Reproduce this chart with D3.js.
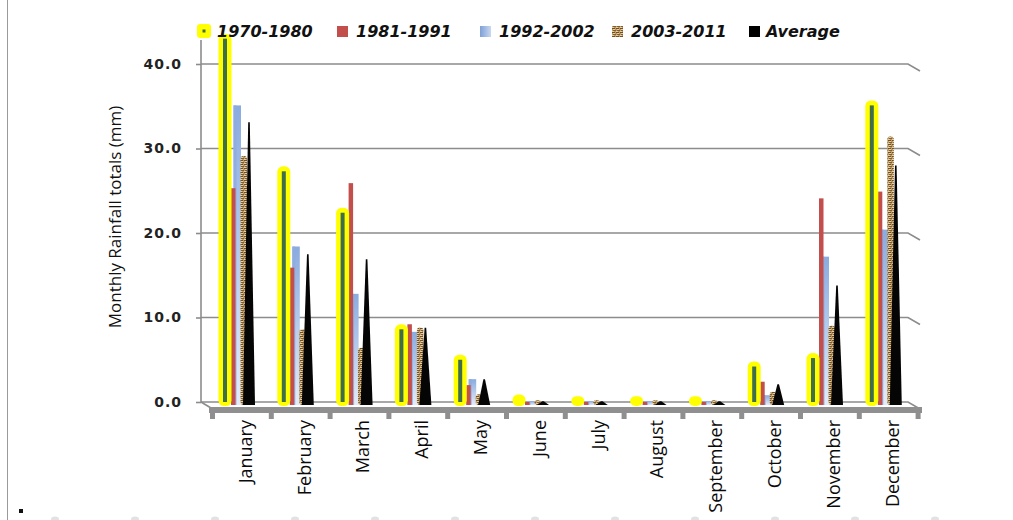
<!DOCTYPE html>
<html>
<head>
<meta charset="utf-8">
<script src="https://cdn.jsdelivr.net/npm/d3@7"></script>
<style>
  html, body { margin: 0; padding: 0; background: #fff; }
  svg { display: block; }
</style>
</head>
<body>
<svg id="chart" width="1013" height="520"></svg>
<script>
// Monthly rainfall totals (mm) by period
const months = ["January", "February", "March", "April", "May", "June",
  "July", "August", "September", "October", "November", "December"];
const seriesNames = ["1970-1980", "1981-1991", "1992-2002", "2003-2011", "Average"];
const rain1970_1980 = [43.0, 27.3, 22.4, 8.6, 5.0, 0.3, 0.1, 0.1, 0.1, 4.2, 5.2, 35.1];
const rain1981_1991 = [25.3, 15.9, 25.9, 9.2, 2.0, 0.0, 0.0, 0.0, 0.0, 2.4, 24.1, 24.9];
const rain1992_2002 = [35.1, 18.4, 12.8, 8.3, 2.7, 0.1, 0.1, 0.1, 0.1, 0.8, 17.2, 20.4];
const rain2003_2011 = [29.0, 8.5, 6.3, 8.7, 0.8, 0.1, 0.1, 0.1, 0.1, 1.1, 8.9, 31.3];
const rainAverage   = [33.1, 17.5, 16.9, 8.8, 2.7, 0.1, 0.1, 0.1, 0.1, 2.1, 13.8, 28.0];
const yTickValues = [0, 10, 20, 30, 40];
const axisTitle = "Monthly Rainfall totals (mm)";

const svg = d3.select("#chart");
const defs = svg.append("defs");

// Fills
const blueGrad = defs.append("linearGradient").attr("id", "blueGrad")
  .attr("x1", 0).attr("y1", 0).attr("x2", 0).attr("y2", 1);
blueGrad.append("stop").attr("offset", "0%").attr("stop-color", "#8aabdf");
blueGrad.append("stop").attr("offset", "100%").attr("stop-color", "#e4ecf8");

const blueGradH = defs.append("linearGradient").attr("id", "blueGradH")
  .attr("x1", 0).attr("y1", 0).attr("x2", 1).attr("y2", 0);
blueGradH.append("stop").attr("offset", "0%").attr("stop-color", "#7f9fd6");
blueGradH.append("stop").attr("offset", "100%").attr("stop-color", "#c9d8f0");

const weave = defs.append("pattern").attr("id", "weave")
  .attr("patternUnits", "userSpaceOnUse").attr("width", 4).attr("height", 4);
weave.append("rect").attr("width", 4).attr("height", 4).attr("fill", "#bf9b63");
weave.append("rect").attr("x", 0).attr("y", 0).attr("width", 3).attr("height", 1).attr("fill", "#6f4f28");
weave.append("rect").attr("x", 1).attr("y", 2).attr("width", 3).attr("height", 1).attr("fill", "#7e5e33");
weave.append("rect").attr("x", 1).attr("y", 1).attr("width", 2).attr("height", 1).attr("fill", "#e6cfa2");
weave.append("rect").attr("x", 0).attr("y", 3).attr("width", 2).attr("height", 1).attr("fill", "#e6cfa2");

// Scales
const y = d3.scaleLinear().domain([0, 40]).range([402, 64]);
const x = d3.scaleBand().domain(months).range([212, 917.6]).paddingInner(0).paddingOuter(0);
const bw = x.bandwidth();
const y0 = y(0);

const gridColor = "#8c8c8c";

// Back wall gridlines with the perspective turn at the right edge
const wallRight = 908;
svg.append("g").selectAll("path").data(yTickValues).join("path")
  .attr("d", d => `M201,${y(d)}H${wallRight}L920,${y(d) + 7}`)
  .attr("fill", "none").attr("stroke", gridColor).attr("stroke-width", 1.6);

// Left wall edge
svg.append("line").attr("x1", 201).attr("x2", 201).attr("y1", 40).attr("y2", y0)
  .attr("stroke", gridColor).attr("stroke-width", 1.6);
svg.append("path").attr("d", `M201,${y0}L211,${y0 + 6}`)
  .attr("stroke", gridColor).attr("stroke-width", 1.6).attr("fill", "none");

// Y axis ticks and labels
const yAxis = d3.axisLeft(y).tickValues(yTickValues).tickFormat(d3.format(".1f")).tickSize(5).tickPadding(14);
const gy = svg.append("g").attr("transform", "translate(201,0)").call(yAxis);
gy.select(".domain").remove();
gy.selectAll(".tick line").attr("stroke", gridColor).attr("stroke-width", 1.6);
gy.selectAll(".tick text")
  .attr("font-family", "DejaVu Sans, Verdana, sans-serif")
  .attr("font-weight", "bold").attr("font-size", 14)
  .attr("letter-spacing", 1).attr("fill", "#222");

// Y axis title
svg.append("text")
  .attr("transform", "translate(121,217) rotate(-90)")
  .attr("text-anchor", "middle")
  .attr("font-family", "Open Sans, sans-serif").attr("font-size", 17)
  .attr("fill", "#111")
  .text(axisTitle);

// Floor front edge with category ticks
svg.append("rect").attr("x", 209).attr("y", y0 + 5).attr("width", 713).attr("height", 6)
  .attr("fill", "#8f8f8f");
const boundaries = months.map(m => x(m)).concat([x(months[11]) + bw]);
svg.append("g").selectAll("rect").data(boundaries).join("rect")
  .attr("x", d => d - 2).attr("y", y0 + 10).attr("width", 5).attr("height", 7)
  .attr("fill", "#8f8f8f");

// Month labels
svg.append("g").selectAll("text").data(months).join("text")
  .attr("transform", d => `translate(${x(d) + bw / 2 + 4},420) rotate(-90)`)
  .attr("text-anchor", "end").attr("dy", "0.35em")
  .attr("font-family", "Open Sans, sans-serif").attr("font-size", 18)
  .attr("fill", "#0a0a0a")
  .text(d => d);

// Bars
const base = y0 + 3;
const rows = months.map((m, i) => ({
  m,
  a: rain1970_1980[i], b: rain1981_1991[i], c: rain1992_2002[i],
  d: rain2003_2011[i], e: rainAverage[i]
}));
const bars = svg.append("g");

// 1992-2002: gradient columns
bars.selectAll(".s3").data(rows).join("rect").attr("class", "s3")
  .attr("x", r => x(r.m) + 21.5).attr("width", 7.5)
  .attr("y", r => y(r.c)).attr("height", r => base - y(r.c))
  .attr("fill", "url(#blueGrad)");
bars.selectAll(".s3e").data(rows).join("rect").attr("class", "s3e")
  .attr("x", r => x(r.m) + 21.5).attr("width", 3)
  .attr("y", r => y(r.c)).attr("height", r => base - y(r.c))
  .attr("fill", "#8fabde").attr("opacity", 0.85);

// 2003-2011: woven texture columns
bars.selectAll(".s4").data(rows).join("rect").attr("class", "s4")
  .attr("x", r => x(r.m) + 28.5).attr("width", 6.5)
  .attr("y", r => y(r.d) - 1).attr("height", r => base - y(r.d) + 1)
  .attr("rx", 3)
  .attr("fill", "url(#weave)");

// Average: pyramids
bars.selectAll(".s5").data(rows).join("path").attr("class", "s5")
  .attr("d", r => {
    const l = x(r.m) + 31, rr = x(r.m) + 43, ap = x(r.m) + 37;
    const t = y(r.e);
    return `M${l},${base}L${ap - 0.8},${t}L${ap + 0.8},${t}L${rr},${base}Z`;
  })
  .attr("fill", "#050505");

// 1981-1991: slim columns
bars.selectAll(".s2").data(rows).join("rect").attr("class", "s2")
  .attr("x", r => x(r.m) + 19).attr("width", 4.5)
  .attr("y", r => y(r.b)).attr("height", r => base - y(r.b))
  .attr("fill", "#c24f4c");

// 1970-1980: highlighted columns
bars.selectAll(".s1").data(rows).join("rect").attr("class", "s1")
  .attr("x", r => x(r.m) + 6.5).attr("width", 13)
  .attr("y", r => y(r.a) - 5).attr("height", r => base + 1 - (y(r.a) - 5))
  .attr("rx", 5.5)
  .attr("fill", "#ffff00");
bars.selectAll(".s1c").data(rows.filter(r => r.a > 1)).join("rect").attr("class", "s1c")
  .attr("x", r => x(r.m) + 11).attr("width", 4)
  .attr("y", r => y(r.a)).attr("height", r => y0 - y(r.a))
  .attr("fill", "#3f6e4c");

// Legend
const legendX = [197, 337, 480, 612, 749];
const legendTextX = [217, 356, 499, 631, 766];
const lg = svg.append("g");
lg.append("rect").attr("x", legendX[0]).attr("y", 24).attr("width", 14).attr("height", 14)
  .attr("rx", 3).attr("fill", "#ffff00");
lg.append("rect").attr("x", legendX[0] + 5.5).attr("y", 29.5).attr("width", 3).attr("height", 3)
  .attr("fill", "#3f6e4c");
const swatchFills = [null, "#c24f4c", "url(#blueGradH)", "url(#weave)", "#000"];
for (let i = 1; i < 5; i++) {
  lg.append("rect").attr("x", legendX[i]).attr("y", 26).attr("width", 11).attr("height", 11)
    .attr("fill", swatchFills[i]);
}
lg.selectAll("text").data(seriesNames).join("text")
  .attr("x", (d, i) => legendTextX[i]).attr("y", 37)
  .attr("font-family", "DejaVu Sans, Verdana, sans-serif")
  .attr("font-weight", "bold").attr("font-style", "italic").attr("font-size", 16)
  .attr("fill", "#111")
  .text(d => d);

// Page edge and trailing bullet line below the chart
svg.append("line").attr("x1", 7.5).attr("x2", 7.5).attr("y1", 0).attr("y2", 520)
  .attr("stroke", "#9a9a9a").attr("stroke-width", 1);
svg.append("rect").attr("x", 19).attr("y", 509).attr("width", 4).attr("height", 4).attr("fill", "#111");
svg.append("g").selectAll("ellipse").data(d3.range(12)).join("ellipse")
  .attr("cx", i => 55 + i * 80).attr("cy", 519).attr("rx", 4).attr("ry", 2.5)
  .attr("fill", "#e2e2e2");
</script>
</body>
</html>
